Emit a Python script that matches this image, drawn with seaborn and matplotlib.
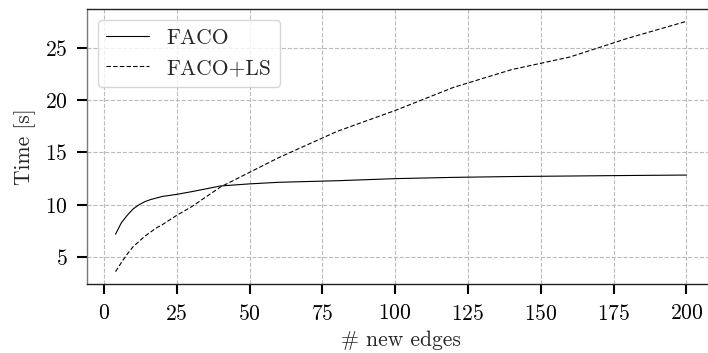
import matplotlib
matplotlib.use('Agg')
import matplotlib.pyplot as plt
import pandas as pd
import seaborn as sns

# values
new_edges = [4, 6, 8, 10, 12, 14, 16, 18, 20, 25, 30, 40, 50, 60, 80, 100, 120, 140, 160, 180, 200]
faco_time = [7.2, 8.3, 9.0, 9.6, 10.0, 10.3, 10.5, 10.65, 10.8, 11.0, 11.25, 11.8, 12.0, 12.15,
             12.3, 12.5, 12.62, 12.7, 12.75, 12.8, 12.84]
faco_ls_time = [3.63, 4.5, 5.3, 6.0, 6.5, 7.0, 7.4, 7.8, 8.1, 9.0, 9.8, 11.7, 13.1, 14.5,
                17.0, 19.0, 21.2, 22.9, 24.1, 25.9, 27.5]
methods = ['FACO', 'FACO+LS']

df = pd.concat([
    pd.DataFrame({'edges': new_edges, 'time': faco_time, 'method': methods[0]}),
    pd.DataFrame({'edges': new_edges, 'time': faco_ls_time, 'method': methods[1]}),
])

FS = 15.5

sns.set_style('ticks')
plt.rcParams['font.family'] = ['cmr10', 'DejaVu Serif']
plt.rcParams['mathtext.fontset'] = 'cm'
plt.rcParams['axes.formatter.use_mathtext'] = True
plt.rcParams['font.size'] = FS

fig = plt.figure(figsize=(7.08, 3.53), dpi=100)
ax = fig.add_axes([0.1229, 0.1950, 0.887, 0.7800])

sns.lineplot(data=df, x='edges', y='time', style='method', style_order=methods,
             dashes={'FACO': '', 'FACO+LS': (4, 2)}, color='black', linewidth=0.8, ax=ax)

ax.grid(True, linestyle='--', color='#bbbbbb', linewidth=0.8)
ax.set_axisbelow(True)
ax.set_xticks([0, 25, 50, 75, 100, 125, 150, 175, 200])
ax.set_yticks([5, 10, 15, 20, 25])
ax.set_xlabel('# new edges', fontsize=FS, labelpad=5)
ax.set_ylabel('Time [s]', fontsize=FS, labelpad=6)
ax.tick_params(labelsize=FS, length=7, width=1.5, colors='black', pad=7)
ax.spines['right'].set_visible(False)
ax.spines['left'].set_color('#777777')
ax.spines['bottom'].set_color('#222222')
ax.spines['top'].set_color('#222222')
for side in ['left', 'bottom', 'top']:
    ax.spines[side].set_linewidth(1.0)

leg = ax.legend(loc='upper left', fontsize=FS, frameon=True, fancybox=True)
leg.get_frame().set_edgecolor('#cccccc')
leg.set_title(None)

fig.savefig('out.png', dpi=100)
